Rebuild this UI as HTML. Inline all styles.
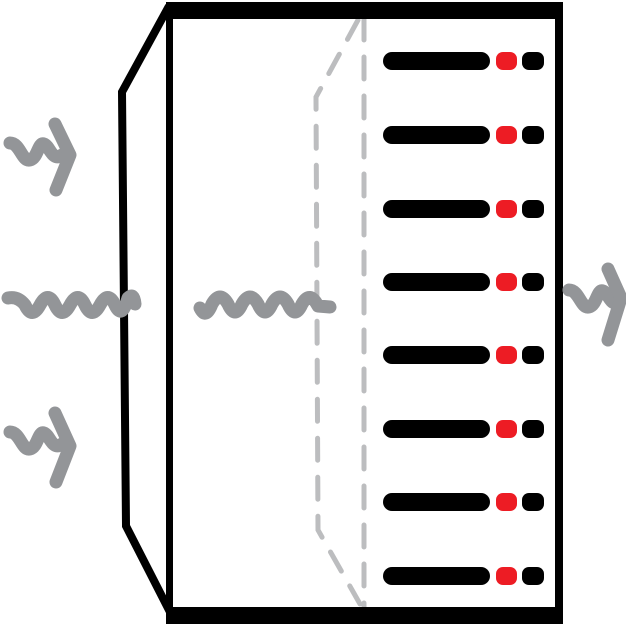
<!DOCTYPE html>
<html><head><meta charset="utf-8"><style>html,body{margin:0;padding:0;background:#fff}svg{display:block}</style></head>
<body>
<svg width="626" height="626" viewBox="0 0 626 626" xmlns="http://www.w3.org/2000/svg">
<g fill="none" stroke="#bcbdbf" stroke-width="5" stroke-linecap="round" stroke-dasharray="22 17">
<path d="M364 18 L364 608"/>
<path d="M358 20 L316 97 L318 530 L360 604"/>
</g>
<g fill="#000">
<rect x="166" y="2" width="397" height="17" rx="3"/>
<rect x="555" y="2" width="8" height="622"/>
<rect x="166" y="607" width="397" height="17"/>
<rect x="166" y="2" width="7" height="622"/>
</g>
<path d="M169 6 L122 92 L126 526 L171 614" fill="none" stroke="#000" stroke-width="8"/>
<g fill="#000">
<rect x="383" y="52" width="107" height="18" rx="9"/><rect x="522" y="52" width="22" height="18" rx="7"/>
<rect x="383" y="126" width="107" height="18" rx="9"/><rect x="522" y="126" width="22" height="18" rx="7"/>
<rect x="383" y="200" width="107" height="18" rx="9"/><rect x="522" y="200" width="22" height="18" rx="7"/>
<rect x="383" y="273" width="107" height="18" rx="9"/><rect x="522" y="273" width="22" height="18" rx="7"/>
<rect x="383" y="346" width="107" height="18" rx="9"/><rect x="522" y="346" width="22" height="18" rx="7"/>
<rect x="383" y="420" width="107" height="18" rx="9"/><rect x="522" y="420" width="22" height="18" rx="7"/>
<rect x="383" y="493" width="107" height="18" rx="9"/><rect x="522" y="493" width="22" height="18" rx="7"/>
<rect x="383" y="567" width="107" height="18" rx="9"/><rect x="522" y="567" width="22" height="18" rx="7"/>
</g>
<g fill="#ed1c24">
<rect x="496" y="52" width="21" height="18" rx="7"/><rect x="496" y="126" width="21" height="18" rx="7"/>
<rect x="496" y="200" width="21" height="18" rx="7"/><rect x="496" y="273" width="21" height="18" rx="7"/>
<rect x="496" y="346" width="21" height="18" rx="7"/><rect x="496" y="420" width="21" height="18" rx="7"/>
<rect x="496" y="493" width="21" height="18" rx="7"/><rect x="496" y="567" width="21" height="18" rx="7"/>
</g>
<g fill="none" stroke="#939598" stroke-width="13" stroke-linecap="round" stroke-linejoin="round">
<path d="M8 298 Q18 296 25 305 Q32 320 40 305 Q48 290 55 305 Q62 320 70 305 Q78 290 85 305 Q92 320 100 305 Q108 290 115 305 Q122 320 128 298 Q134 292 135 304"/>
<path d="M200 308 Q206 320 212 304 Q220 290 228 304 Q235 320 242 304 Q250 290 258 304 Q265 320 272 304 Q280 290 288 304 Q295 320 302 304 Q310 290 318 306 L330 307"/>
<path d="M10 143 C20 143 22 162 30 160 C38 158 38 142 44 144 C50 146 52 162 62 155"/>
<path d="M55 124 L70 155 L56 190"/>
<path d="M10 432 C20 432 22 451 30 449 C38 447 38 431 44 433 C50 435 52 451 62 444"/>
<path d="M55 413 L70 446 L56 482"/>
<path d="M569 290 C579 290 581 309 589 307 C597 305 597 289 603 291 C609 293 611 309 619 300"/>
<path d="M608 269 L621 298 L608 340"/>
</g>
</svg>
</body></html>
